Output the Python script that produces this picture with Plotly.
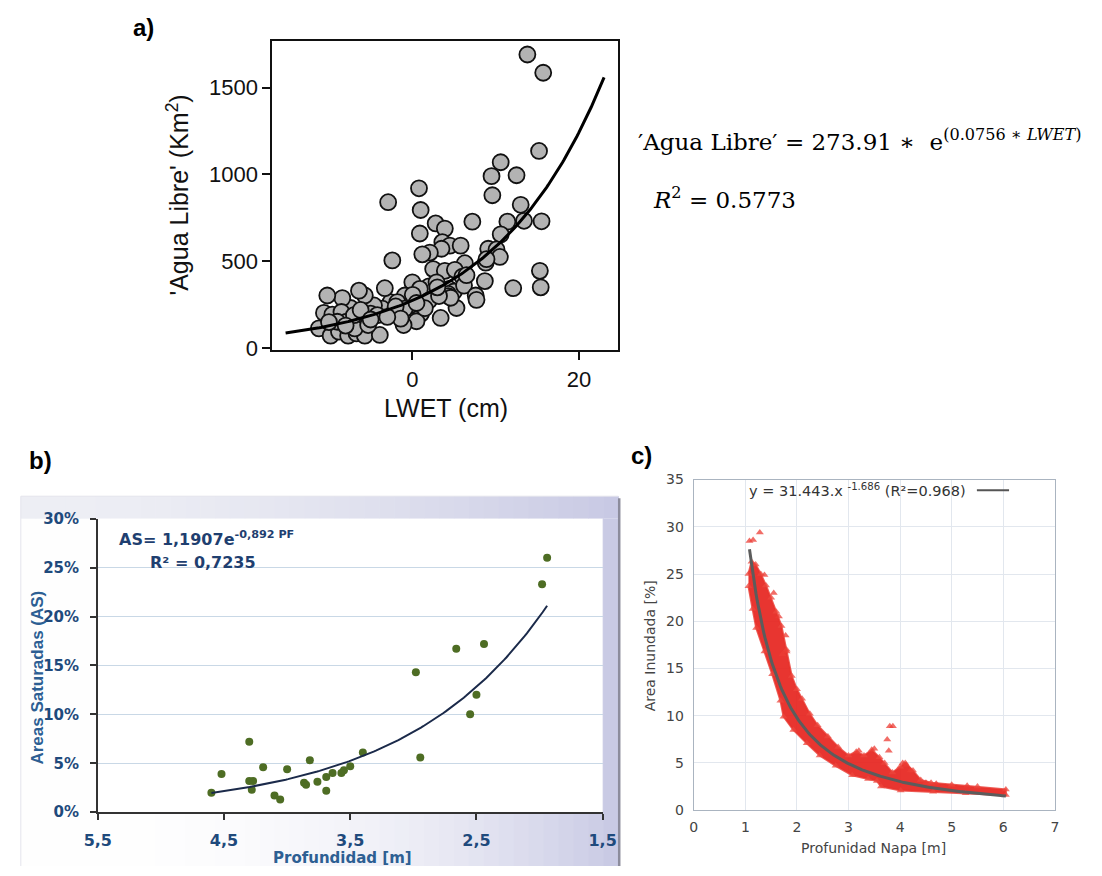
import numpy as np
import plotly.graph_objects as go

W, H = 1102, 876


def px(x):
    return x / W


def py(y):
    return 1 - y / H


# ---------------- panel a: LWET vs open water area ----------------
lwet = [13.8, 15.7, 15.2, 10.6, 9.5, 12.5, 9.6, 0.8, -2.9, 1.0, 13.0, 2.8, 3.9, 7.2,
        11.4, 13.4, 15.5, 0.9, 10.6, 3.6, 4.5, 5.8, 3.5, 2.1, 1.2, 9.1, 10.1, 10.5,
        8.8, 8.9, -2.4, 6.3, 2.5, 3.9, 5.1, 6.0, 15.3, 15.4, 12.1, 8.7, 0.0, 2.0,
        0.9, 2.9, 4.4, 5.0, 6.2, 7.6, 7.7, 4.3, 5.3, 3.4, 2.0, 1.05, 0.5, -1.05,
        -0.3, -0.9, -1.6, -2.6, -3.3, -3.6, -4.6, -5.7, -6.4, -7.4, -8.4, -10.2,
        -10.6, -9.6, -8.5, -7.9, -6.1, -5.0, -11.2, -9.8, -8.8, -7.7, -6.7, -5.7,
        -3.9, -9.0, -6.9, -5.3, -1.8, -2.3, 0.05, -0.9, 4.3, 4.6, 3.2, 1.5, -4.2,
        -7.0, -10.0, -8.0, -6.2, -2.0, 0.5, 3.0, 6.5, -1.4, -5.0, -3.0]
agua = [1690, 1585, 1135, 1070, 990, 995, 880, 920, 840, 795, 825, 718, 688, 728,
        728, 733, 730, 660, 655, 610, 590, 590, 572, 550, 540, 572, 568, 525,
        492, 512, 505, 489, 455, 445, 451, 411, 445, 350, 345, 386, 379, 356,
        341, 379, 341, 326, 360, 303, 278, 312, 231, 174, 275, 199, 155, 133,
        246, 303, 208, 265, 345, 227, 246, 303, 331, 231, 288, 303,
        203, 193, 208, 152, 170, 199, 114, 72, 95, 72, 85, 72,
        76, 152, 114, 133, 265, 199, 307, 227, 300, 290, 300, 230, 190,
        190, 150, 130, 220, 240, 260, 350, 420, 170, 165, 180]
a_coef, a_rate = 273.91, 0.0756
a_fit_x = np.linspace(-15.2, 23.0, 200)
a_fit_y = a_coef * np.exp(a_rate * a_fit_x)

# ---------------- panel b: saturated areas vs water table depth ----------------
b_prof = [4.60, 4.52, 4.30, 4.30, 4.27, 4.28, 4.19, 4.10, 4.055, 4.00, 3.866, 3.85,
          3.82, 3.76, 3.69, 3.69, 3.64, 3.57, 3.55, 3.50, 3.40, 2.98, 2.945, 2.66,
          2.55, 2.50, 2.44, 1.98, 1.94]
b_as = [2.0, 3.9, 7.2, 3.2, 3.2, 2.3, 4.6, 1.7, 1.3, 4.4, 3.0, 2.8,
        5.3, 3.1, 3.6, 2.2, 4.0, 4.0, 4.3, 4.7, 6.1, 14.3, 5.6, 16.7,
        10.0, 12.0, 17.2, 23.3, 26.0]
b_coef, b_rate = 1.1907, -0.892
b_fit_x = np.linspace(4.6, 1.94, 150)
b_fit_y = 100 * b_coef * np.exp(b_rate * b_fit_x)
b_xticks = [5.5, 4.5, 3.5, 2.5, 1.5]
b_xticklabels = ["5,5", "4,5", "3,5", "2,5", "1,5"]
b_yticks = [0, 5, 10, 15, 20, 25, 30]
b_yticklabels = ["0%", "5%", "10%", "15%", "20%", "25%", "30%"]

# ---------------- panel c: flooded area vs water table depth ----------------
c_upper_x = [1.06, 1.12, 1.2, 1.3, 1.4, 1.5, 1.6, 1.7, 1.8, 1.9, 2.0, 2.1, 2.25, 2.4,
             2.6, 2.8, 3.0, 3.15, 3.3, 3.45, 3.6, 3.7, 3.85, 4.0, 4.1, 4.25, 4.4,
             4.6, 5.0, 5.5, 6.05]
c_upper_y = [25.0, 26.3, 26.0, 25.0, 23.8, 22.5, 21.0, 19.5, 17.0, 14.2, 12.8, 11.8,
             10.2, 9.0, 7.8, 6.7, 5.8, 6.2, 5.8, 6.4, 5.6, 5.0, 4.0, 4.6, 5.0, 4.2,
             3.2, 2.9, 2.7, 2.5, 2.2]
c_lower_x = [1.06, 1.14, 1.21, 1.37, 1.52, 1.68, 1.74, 1.93, 2.19, 2.44, 2.75, 3.07,
             3.38, 3.55, 3.63, 4.01, 4.64, 5.27, 6.05]
c_lower_y = [23.7, 21.3, 19.3, 16.8, 14.4, 11.6, 9.9, 8.5, 7.1, 5.8, 4.7, 3.7,
             3.3, 3.1, 2.5, 2.1, 1.95, 1.8, 1.6]
c_out_x = [1.08, 1.15, 1.28, 1.37, 1.55, 1.65, 1.78, 1.72, 1.8, 3.8, 3.86, 3.75,
           3.78, 3.2, 3.5, 4.05, 4.12, 4.2, 4.5, 4.7, 5.3]
c_out_y = [28.5, 28.6, 29.4, 24.9, 23.0, 20.5, 18.5, 16.5, 16.8, 8.9, 8.9, 7.5,
           6.3, 6.3, 6.5, 5.0, 4.8, 4.2, 2.9, 2.8, 2.6]
c_coef, c_exp = 31.443, -1.686
c_fit_x = np.linspace(1.08, 6.05, 200)
c_fit_y = c_coef * c_fit_x ** c_exp

fig = go.Figure()

# panel a
fig.add_trace(go.Scatter(x=lwet, y=agua, mode="markers", xaxis="x", yaxis="y",
                         marker=dict(size=16, color="#b3b3b3",
                                     line=dict(color="#111111", width=1.8)),
                         showlegend=False))
fig.add_trace(go.Scatter(x=a_fit_x, y=a_fit_y, mode="lines", xaxis="x", yaxis="y",
                         line=dict(color="#000000", width=3), showlegend=False))

# panel b
fig.add_trace(go.Scatter(x=b_prof, y=b_as, mode="markers", xaxis="x2", yaxis="y2",
                         marker=dict(size=8, color="#4e6d24"), showlegend=False))
fig.add_trace(go.Scatter(x=b_fit_x, y=b_fit_y, mode="lines", xaxis="x2", yaxis="y2",
                         line=dict(color="#1b2a4a", width=2), showlegend=False))

# panel c: dense point cloud drawn as its envelope, plus stray points
band_x = c_upper_x + c_lower_x[::-1]
band_y = c_upper_y + c_lower_y[::-1]
fig.add_trace(go.Scatter(x=band_x, y=band_y, mode="lines+markers", fill="toself",
                         xaxis="x3", yaxis="y3",
                         fillcolor="rgba(230,36,30,0.92)",
                         line=dict(color="rgba(232,50,42,0.8)", width=2),
                         marker=dict(symbol="triangle-up", size=7,
                                     color="rgba(236,70,60,0.75)"),
                         showlegend=False))
fig.add_trace(go.Scatter(x=c_out_x, y=c_out_y, mode="markers", xaxis="x3", yaxis="y3",
                         marker=dict(symbol="triangle-up", size=7,
                                     color="rgba(236,60,52,0.75)"),
                         showlegend=False))
fig.add_trace(go.Scatter(x=c_fit_x, y=c_fit_y, mode="lines", xaxis="x3", yaxis="y3",
                         line=dict(color="#5c5c5c", width=3), showlegend=False))

# ---------- panel b frame with soft gradient ----------
shapes = []
lav = np.array([200, 201, 228])
white = np.array([255, 255, 255])
top_base = np.array([238, 239, 245])
bx0, bx1, by0, by1, btop = 7, 620, 498, 876, 521
n = 40
for i in range(n):
    xa = bx0 + (bx1 - bx0) * i / n
    xb = bx0 + (bx1 - bx0) * (i + 1) / n + 0.6
    t = (i + 0.5) / n
    c_body = white + (lav - white) * t ** 2.6
    c_top = top_base + (lav - top_base) * t ** 1.8
    shapes.append(dict(type="rect", xref="paper", yref="paper", layer="below",
                       x0=px(xa), x1=px(xb), y0=py(by1), y1=py(btop),
                       fillcolor="rgb(%d,%d,%d)" % tuple(c_body), line=dict(width=0)))
    shapes.append(dict(type="rect", xref="paper", yref="paper", layer="below",
                       x0=px(xa), x1=px(xb), y0=py(btop), y1=py(by0),
                       fillcolor="rgb(%d,%d,%d)" % tuple(c_top), line=dict(width=0)))
shapes.append(dict(type="rect", xref="paper", yref="paper", layer="below",
                   x0=px(86), x1=px(604), y0=py(821), y1=py(521),
                   fillcolor="white", line=dict(width=0)))
shapes.append(dict(type="line", xref="paper", yref="paper", layer="below",
                   x0=px(621), x1=px(621), y0=py(500), y1=py(876),
                   line=dict(color="#8c8c9c", width=2.5)))
shapes.append(dict(type="line", xref="paper", yref="paper", layer="below",
                   x0=px(7), x1=px(7), y0=py(498), y1=py(876),
                   line=dict(color="#e4e4ec", width=1)))
shapes.append(dict(type="line", xref="paper", yref="paper", layer="below",
                   x0=px(7), x1=px(620), y0=py(498), y1=py(498),
                   line=dict(color="#e4e4ec", width=1)))
# panel c legend sample
shapes.append(dict(type="line", xref="paper", yref="paper",
                   x0=px(988), x1=px(1021), y0=py(492), y1=py(492),
                   line=dict(color="#555555", width=2)))

ARIAL = "Liberation Sans, Arial, sans-serif"
DJV = "DejaVu Sans, Verdana, sans-serif"
SERIF = "DejaVu Serif, Liberation Serif, serif"
B_TICK = "#1f4a7c"
B_TITLE = "#2d5f93"
C_TXT = "#444444"


def ann(x, y, text, size, family, color="#000000", angle=0, xanchor="center",
        weight="normal"):
    return dict(x=px(x), y=py(y), xref="paper", yref="paper", text=text,
                showarrow=False, textangle=angle, xanchor=xanchor, yanchor="middle",
                font=dict(size=size, family=family, color=color, weight=weight))


annotations = [
    ann(133, 19, "a)", 24, ARIAL, weight="bold"),
    ann(168, 190, "'Agua Libre' (Km<sup>2</sup>)", 25, ARIAL, "#111111", angle=-90),
    ann(443, 408, "LWET (cm)", 25, ARIAL, "#111111"),
    ann(638, 134, "′Agua Libre′ = 273.91 ∗  e<sup>(0.0756 ∗ <i>LWET</i>)</sup>", 23,
        SERIF, xanchor="left"),
    ann(654, 193, "<i>R</i><sup>2</sup> = 0.5773", 23, SERIF, xanchor="left"),
    ann(27, 461, "b)", 24, ARIAL, weight="bold"),
    ann(106, 541, "AS= 1,1907e<sup>-0,892 PF</sup>", 16, DJV, "#1f3f70",
        xanchor="left", weight="bold"),
    ann(138, 566, "R² = 0,7235", 16, DJV, "#1f3f70", xanchor="left", weight="bold"),
    ann(24, 683, "Areas Saturadas (AS)", 17, ARIAL, B_TITLE, angle=-90, weight="bold"),
    ann(337, 868, "Profundidad [m]", 15, DJV, B_TITLE, weight="bold"),
    ann(644, 456, "c)", 24, ARIAL, weight="bold"),
    ann(866, 492, "y = 31.443.x <sup>-1.686</sup> (R²=0.968)", 14.5, DJV, "#333333"),
    ann(652, 651, "Area Inundada [%]", 14, DJV, C_TXT, angle=-90),
    ann(882, 858, "Profunidad Napa [m]", 14, DJV, C_TXT),
]

fig.update_layout(
    width=W, height=H, margin=dict(l=0, r=0, t=0, b=0),
    paper_bgcolor="white", plot_bgcolor="white",
    shapes=shapes, annotations=annotations,
    xaxis=dict(domain=[px(265), px(620)], range=[-16.8, 24.7], tickvals=[0, 20],
               ticks="outside", ticklen=8, tickwidth=1.5, tickcolor="#111",
               showline=True, mirror=True, linecolor="#111", linewidth=1.6,
               showgrid=False, zeroline=False, anchor="y",
               tickfont=dict(size=22, family=ARIAL, color="#111")),
    yaxis=dict(domain=[py(349), py(33)], range=[-13, 1766],
               tickvals=[0, 500, 1000, 1500],
               ticks="outside", ticklen=8, tickwidth=1.5, tickcolor="#111",
               showline=True, mirror=True, linecolor="#111", linewidth=1.6,
               showgrid=False, zeroline=False, anchor="x",
               tickfont=dict(size=22, family=ARIAL, color="#111")),
    xaxis2=dict(domain=[px(86), px(604)], range=[5.5, 1.5], tickvals=b_xticks,
                ticktext=b_xticklabels, ticks="outside", ticklen=6, tickwidth=1.5,
                tickcolor="#333", showline=True, linecolor="#333", linewidth=1.5,
                showgrid=False, zeroline=False, anchor="y2", ticklabelstandoff=7,
                tickfont=dict(size=16, family=DJV, color=B_TICK, weight="bold")),
    yaxis2=dict(domain=[py(821), py(521)], range=[0, 30], tickvals=b_yticks,
                ticktext=b_yticklabels, ticks="outside", ticklen=6, tickwidth=1.5,
                tickcolor="#333", showline=True, linecolor="#333", linewidth=1.5,
                showgrid=True, gridcolor="#c9d8e6", gridwidth=1.2, zeroline=False,
                anchor="x2", ticklabelstandoff=8,
                tickfont=dict(size=15, family=DJV, color=B_TICK, weight="bold")),
    xaxis3=dict(domain=[px(697.5), px(1068)], range=[0, 7], dtick=1,
                showgrid=True, gridcolor="#e2e7ee", showline=True, mirror=True,
                linecolor="#aab4c0", linewidth=1.2, zeroline=False, anchor="y3",
                ticks="", ticklabelstandoff=4,
                tickfont=dict(size=14, family=DJV, color=C_TXT)),
    yaxis3=dict(domain=[py(819), py(481)], range=[0, 35], dtick=5,
                showgrid=True, gridcolor="#e2e7ee", showline=True, mirror=True,
                linecolor="#aab4c0", linewidth=1.2, zeroline=False, anchor="x3",
                ticks="", ticklabelstandoff=6,
                tickfont=dict(size=14, family=DJV, color=C_TXT)),
)

fig.write_html("out.html")
